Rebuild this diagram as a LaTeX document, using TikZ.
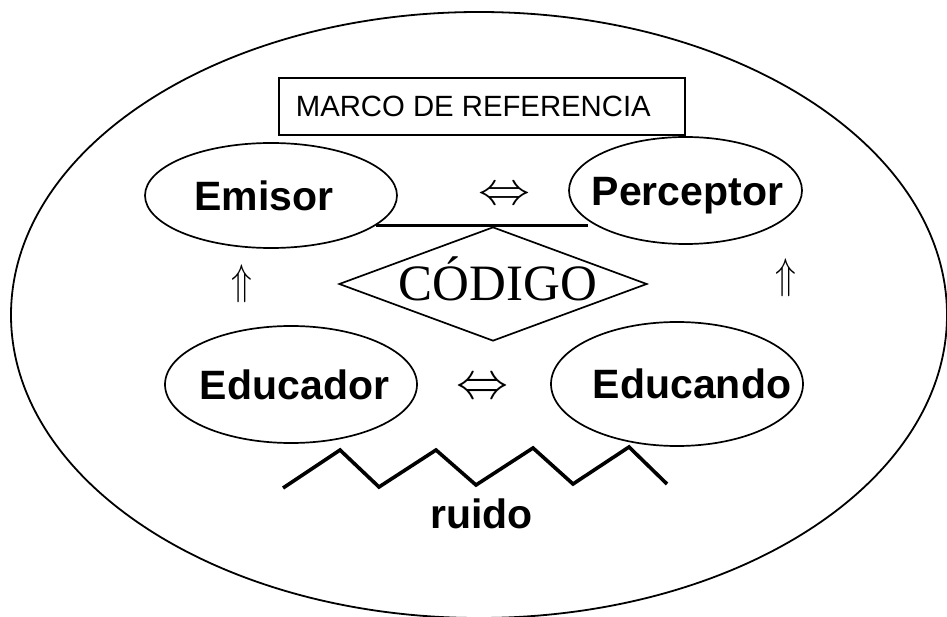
\documentclass[tikz,border=0pt]{standalone}
\usepackage{fontspec}
\usepackage{graphicx}
\setmainfont{Liberation Sans}
\newfontfamily\timesf{Liberation Serif}
\usetikzlibrary{shapes.geometric}
\tikzset{
  oval/.style={draw, ellipse, line width=1.7pt, inner sep=0pt,
    font=\fontsize{41pt}{41pt}\selectfont\bfseries, text height=29.4pt, text depth=0pt},
  framebox/.style={draw, rectangle, line width=1.7pt, inner sep=0pt, anchor=north west,
    minimum height=57pt, font=\fontsize{29.3pt}{29.3pt}\selectfont, text height=21pt, text depth=0pt},
  codebox/.style={draw, diamond, line width=1.7pt, inner sep=0pt,
    font=\timesf\fontsize{51pt}{51pt}\selectfont, text height=33.5pt, text depth=0pt},
  sym/.style={inner sep=0pt, outer sep=0pt},
  plainline/.style={line width=2.2pt},
  zig/.style={line width=3.6pt, line join=miter},
  outerline/.style={draw, ellipse, line width=1.8pt, inner sep=0pt}
}
\begin{document}
\begin{tikzpicture}[x=1pt, y=-1pt]
\useasboundingbox (0,0) rectangle (947,617);
% outer ellipse
\node[outerline, minimum width=936pt, minimum height=606pt] (outer) at (479,315) {};
% frame of reference
\node[framebox] (marco) at (278,77) {\makebox[406pt][l]{\hspace*{17pt}MARCO DE REFERENCIA}};
% ellipses
\node[oval, minimum width=252pt, minimum height=105pt] (emisor) at (271,195.5) {\makebox[0pt]{\hspace*{-14pt}Emisor}};
\node[oval, minimum width=233pt, minimum height=107pt] (perceptor) at (685.5,190.5) {\makebox[0pt]{\hspace*{4pt}Perceptor}};
\node[oval, minimum width=252pt, minimum height=117pt] (educador) at (291,384.5) {\makebox[0pt]{\hspace*{7pt}Educador}};
\node[oval, minimum width=252pt, minimum height=124pt] (educando) at (677,384) {\makebox[0pt]{\hspace*{30pt}Educando}};
% code diamond
\node[codebox, minimum width=308pt, minimum height=114pt] (codigo) at (493,284) {\makebox[0pt]{\hspace*{10pt}CÓDIGO}};
% arrow glyphs
\node[sym] (dar1) at (504,196) {\scalebox{5.2}[4.6]{$\Leftrightarrow$}};
\node[sym] (dar2) at (482,389) {\scalebox{5.2}[5.2]{$\Leftrightarrow$}};
\node[sym] (uar1) at (242,284) {\scalebox{3.4}[4.3]{$\Uparrow$}};
\node[sym] (uar2) at (786,278) {\scalebox{3.4}[4.3]{$\Uparrow$}};
% line above the diamond
\coordinate (lineR) at (588,225);
\draw[plainline] (emisor.-16) -- (emisor.-16 -| lineR);
% noise zigzag
\draw[zig] (283,488) -- (340,450) -- (379,487) -- (436,450) -- (476,485) -- (533,448) -- (573,484) -- (629,447) -- (667,484);
\node[font=\fontsize{41pt}{41pt}\selectfont\bfseries, anchor=base, inner sep=0pt] (ruido) at (481.5,528) {ruido};
\end{tikzpicture}
\end{document}
